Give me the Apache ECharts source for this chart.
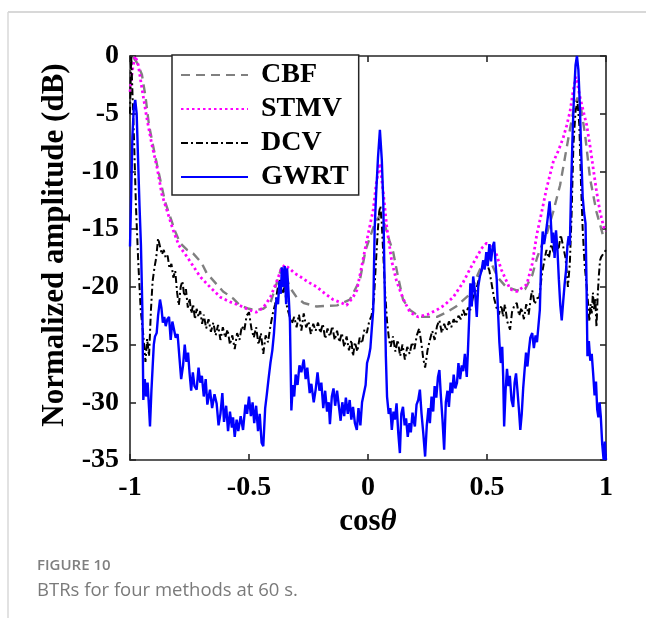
<!DOCTYPE html>
<html>
<head>
<meta charset="utf-8">
<script src="https://cdn.jsdelivr.net/npm/echarts@6/dist/echarts.min.js"></script>
<style>
html,body{margin:0;padding:0;background:#fff;}
#chart{width:646px;height:618px;}
</style>
</head>
<body>
<div id="chart"></div>
<script>
// ---- data: [cosθ, normalized amplitude dB] ----
var seriesNames = ['CBF', 'STMV', 'DCV', 'GWRT'];
var xTickValues = [-1, -0.5, 0, 0.5, 1];
var xTickLabels = ['-1', '-0.5', '0', '0.5', '1'];
var yTickValues = [0, -5, -10, -15, -20, -25, -30, -35];
var yTickLabels = ['0', '-5', '-10', '-15', '-20', '-25', '-30', '-35'];

var cbf = [[-1,-1.2],[-0.99,0],[-0.97,-0.6],[-0.95,-1.6],[-0.935,-3.5],[-0.92,-6.0],[-0.895,-8.6],[-0.87,-11],[-0.853,-12.6],[-0.83,-14],[-0.81,-15.2],[-0.79,-16.2],[-0.76,-16.8],[-0.735,-17.1],[-0.7,-17.9],[-0.678,-18.8],[-0.609,-20.4],[-0.567,-21],[-0.538,-21.6],[-0.5,-21.9],[-0.468,-22],[-0.44,-21.9],[-0.41,-21.4],[-0.384,-19.7],[-0.365,-18.4],[-0.35,-18.6],[-0.33,-20],[-0.3,-20.9],[-0.27,-21.4],[-0.216,-21.7],[-0.13,-21.6],[-0.076,-21.1],[-0.034,-19.4],[-0.01,-16.8],[0.01,-15.6],[0.03,-14.4],[0.05,-13.8],[0.07,-14.6],[0.09,-16],[0.106,-17],[0.125,-19],[0.147,-21.1],[0.176,-22],[0.218,-22.6],[0.29,-22.6],[0.33,-22.2],[0.37,-21.7],[0.43,-20.6],[0.46,-19],[0.485,-17.8],[0.51,-17.6],[0.546,-19.2],[0.58,-20],[0.625,-20.3],[0.66,-20.2],[0.69,-19],[0.71,-17.5],[0.73,-16.4],[0.75,-15.5],[0.778,-13.5],[0.807,-11.2],[0.83,-8.5],[0.849,-6.3],[0.865,-4.5],[0.88,-3.6],[0.895,-4.5],[0.912,-6.8],[0.933,-10.6],[0.96,-13.5],[0.987,-15.5],[1,-15.6]];

var stmv = [[-1,-3.1],[-0.99,-1.2],[-0.978,0],[-0.965,-0.8],[-0.95,-2.8],[-0.93,-5.3],[-0.908,-7.7],[-0.885,-9.8],[-0.866,-12],[-0.846,-13.3],[-0.82,-15],[-0.795,-16.4],[-0.76,-17.4],[-0.706,-19.1],[-0.66,-20.1],[-0.62,-20.9],[-0.58,-21.3],[-0.54,-21.6],[-0.5,-22],[-0.47,-22.2],[-0.44,-21.8],[-0.41,-20.9],[-0.385,-19.6],[-0.365,-18.5],[-0.35,-18.1],[-0.33,-18.4],[-0.31,-18.8],[-0.286,-19.1],[-0.25,-19.6],[-0.216,-20],[-0.18,-20.6],[-0.147,-21.1],[-0.11,-21.4],[-0.09,-21.6],[-0.063,-20.9],[-0.047,-20.3],[-0.03,-18.6],[-0.013,-16.8],[0.005,-15],[0.022,-13.3],[0.035,-11],[0.05,-9.3],[0.065,-12],[0.08,-15],[0.1,-17.8],[0.12,-19.5],[0.147,-21],[0.176,-22.2],[0.21,-22.6],[0.25,-22.4],[0.289,-22],[0.32,-21.6],[0.358,-20.9],[0.4,-19.6],[0.43,-18.4],[0.46,-17.3],[0.48,-16.6],[0.499,-16.2],[0.515,-16.5],[0.54,-17.2],[0.56,-18.5],[0.597,-20.2],[0.625,-20.4],[0.667,-19.8],[0.69,-18],[0.709,-15.5],[0.73,-13.5],[0.75,-11.5],[0.778,-9.2],[0.8,-8.2],[0.82,-7.1],[0.835,-6],[0.849,-4.8],[0.862,-3],[0.874,-1.8],[0.89,-3.5],[0.905,-4.8],[0.919,-6],[0.933,-7.8],[0.946,-9.7],[0.96,-11.7],[0.975,-13.5],[0.99,-14.8],[1,-15.2]];

var dcv = [[-1,-5],[-0.995,0],[-0.99,-3],[-0.982,-8],[-0.975,-13],[-0.965,-18],[-0.955,-22],[-0.945,-24],[-0.935,-26.5],[-0.928,-24.5],[-0.92,-26],[-0.912,-22],[-0.905,-19.5],[-0.897,-18.3],[-0.89,-17.5],[-0.882,-15.8],[-0.874,-16.5],[-0.866,-17.2],[-0.858,-16.8],[-0.85,-17.5],[-0.842,-17.3],[-0.834,-18.4],[-0.826,-18],[-0.818,-19.2],[-0.81,-18.6],[-0.802,-20.5],[-0.795,-21.6],[-0.787,-20],[-0.78,-19.5],[-0.772,-20.8],[-0.765,-20.2],[-0.757,-21.8],[-0.75,-21],[-0.742,-22.3],[-0.735,-21.5],[-0.727,-22.8],[-0.72,-21.9],[-0.712,-22.6],[-0.705,-22.1],[-0.697,-23.2],[-0.69,-22.4],[-0.68,-23.6],[-0.67,-22.8],[-0.66,-23.9],[-0.65,-23.1],[-0.64,-24.2],[-0.63,-23.3],[-0.62,-24.6],[-0.61,-23.5],[-0.6,-24.4],[-0.59,-23.7],[-0.58,-25],[-0.57,-24.2],[-0.56,-25.4],[-0.55,-24],[-0.54,-24.6],[-0.53,-23.4],[-0.52,-23.8],[-0.51,-22.5],[-0.5,-22.2],[-0.49,-23.6],[-0.48,-24.4],[-0.47,-23.5],[-0.46,-25],[-0.45,-24],[-0.44,-25.8],[-0.43,-24.2],[-0.42,-24.8],[-0.41,-23.4],[-0.4,-22.3],[-0.39,-21.5],[-0.38,-20.2],[-0.37,-19.4],[-0.36,-20.6],[-0.35,-20],[-0.34,-21.8],[-0.33,-22.5],[-0.32,-23.2],[-0.31,-22.6],[-0.3,-23.5],[-0.29,-22.4],[-0.28,-23.8],[-0.27,-22.3],[-0.26,-23.5],[-0.25,-23],[-0.24,-24.1],[-0.23,-23.2],[-0.22,-23.8],[-0.21,-23.1],[-0.2,-24],[-0.19,-23.2],[-0.18,-24.5],[-0.17,-23.6],[-0.16,-24.3],[-0.15,-23.4],[-0.14,-24.6],[-0.13,-23.8],[-0.12,-24.8],[-0.11,-24],[-0.1,-25.2],[-0.09,-24.3],[-0.08,-25.5],[-0.07,-24.6],[-0.063,-26],[-0.055,-24.8],[-0.045,-25.6],[-0.035,-24.4],[-0.025,-24.9],[-0.015,-23.7],[-0.005,-24],[0.005,-23],[0.015,-22.5],[0.025,-21],[0.033,-18],[0.04,-15.5],[0.047,-13.5],[0.052,-13],[0.058,-14.5],[0.065,-17.5],[0.072,-20.5],[0.08,-23],[0.088,-24.5],[0.095,-25.2],[0.105,-24.3],[0.115,-25.6],[0.125,-24.6],[0.135,-26],[0.145,-25],[0.155,-26.3],[0.165,-25.2],[0.175,-25.8],[0.185,-24.8],[0.195,-25.4],[0.205,-24.2],[0.215,-23.6],[0.225,-25],[0.232,-26.2],[0.24,-27],[0.25,-25.5],[0.26,-24.6],[0.27,-23.8],[0.28,-24.6],[0.29,-23.4],[0.3,-22.9],[0.31,-24],[0.32,-23.2],[0.33,-23.8],[0.34,-23],[0.35,-23.5],[0.36,-22.8],[0.37,-23.2],[0.38,-22.5],[0.39,-22.8],[0.4,-22],[0.41,-22.6],[0.42,-21.8],[0.43,-22],[0.44,-21],[0.45,-20.5],[0.46,-19.8],[0.47,-19],[0.48,-18.4],[0.49,-18.2],[0.5,-18],[0.51,-18.6],[0.52,-19.8],[0.53,-21],[0.54,-21.8],[0.55,-22.4],[0.56,-21.6],[0.568,-22.6],[0.575,-21.5],[0.585,-23],[0.597,-23.7],[0.605,-22.2],[0.615,-21.6],[0.625,-21.4],[0.635,-22.5],[0.645,-21.8],[0.655,-22.8],[0.665,-21.5],[0.675,-22.4],[0.685,-20.8],[0.69,-20.3],[0.7,-21.5],[0.71,-21],[0.72,-20.9],[0.73,-19],[0.74,-17.8],[0.75,-16.8],[0.76,-17.5],[0.77,-16.3],[0.78,-17],[0.79,-16],[0.8,-16.8],[0.81,-15.5],[0.82,-16.5],[0.83,-17.5],[0.84,-20],[0.848,-18],[0.855,-14],[0.863,-7.7],[0.872,-4.8],[0.88,-3.9],[0.888,-6],[0.895,-11],[0.902,-15],[0.91,-18],[0.919,-20],[0.925,-21.5],[0.93,-23],[0.935,-21.5],[0.94,-22.3],[0.945,-20.5],[0.95,-22],[0.955,-21],[0.96,-23.5],[0.965,-20.8],[0.97,-19],[0.975,-17.7],[0.98,-17.4],[0.99,-17.1],[1,-16.8]];

var gwrt = [[-1,-16.5],[-0.995,-12],[-0.99,-7],[-0.984,-4.5],[-0.978,-3.8],[-0.972,-5],[-0.966,-9],[-0.96,-13],[-0.954,-16.4],[-0.948,-22],[-0.944,-29.8],[-0.938,-28],[-0.932,-29.5],[-0.926,-28.3],[-0.92,-30.5],[-0.916,-32.1],[-0.91,-29],[-0.905,-27],[-0.9,-25],[-0.895,-24.3],[-0.888,-24],[-0.882,-22.5],[-0.874,-21.1],[-0.868,-21.8],[-0.862,-23.1],[-0.856,-22.6],[-0.85,-23.4],[-0.843,-22.8],[-0.836,-22.6],[-0.829,-24.6],[-0.822,-23],[-0.815,-22.9],[-0.808,-24.4],[-0.8,-24.1],[-0.792,-26.2],[-0.785,-28],[-0.777,-26.8],[-0.77,-25],[-0.763,-26.5],[-0.756,-25.7],[-0.75,-27.4],[-0.743,-29],[-0.736,-27.4],[-0.729,-28.6],[-0.72,-28.9],[-0.712,-27],[-0.705,-28.3],[-0.698,-27.7],[-0.69,-29.5],[-0.682,-28],[-0.675,-30.2],[-0.664,-28.9],[-0.655,-30.5],[-0.645,-29.3],[-0.636,-30.1],[-0.628,-32],[-0.62,-31],[-0.612,-29.2],[-0.605,-31.7],[-0.596,-30.3],[-0.588,-32.5],[-0.58,-30.8],[-0.572,-32.2],[-0.567,-31.3],[-0.56,-33],[-0.552,-31.5],[-0.545,-32.5],[-0.535,-31.2],[-0.525,-32.4],[-0.515,-30.2],[-0.508,-31],[-0.5,-29.5],[-0.492,-31.2],[-0.485,-30],[-0.478,-31.8],[-0.47,-30.3],[-0.462,-32.5],[-0.455,-31],[-0.447,-33.5],[-0.44,-33.8],[-0.432,-30.5],[-0.425,-29.3],[-0.418,-28],[-0.41,-26.6],[-0.402,-25.5],[-0.395,-24],[-0.388,-21.8],[-0.384,-20.9],[-0.378,-21.5],[-0.372,-19.5],[-0.366,-20.6],[-0.362,-18.3],[-0.356,-20],[-0.35,-18.2],[-0.344,-21.5],[-0.34,-18.4],[-0.334,-20.5],[-0.328,-23],[-0.322,-30.7],[-0.316,-28.5],[-0.31,-29.5],[-0.304,-27.6],[-0.296,-28.5],[-0.288,-26.8],[-0.28,-27.4],[-0.27,-26.3],[-0.262,-28],[-0.255,-27],[-0.245,-29.2],[-0.238,-28.4],[-0.228,-30],[-0.22,-28.9],[-0.212,-27.4],[-0.204,-29],[-0.196,-28.3],[-0.188,-30.5],[-0.18,-29],[-0.172,-30.8],[-0.165,-30],[-0.16,-31.9],[-0.152,-29.5],[-0.145,-28.8],[-0.138,-30.3],[-0.13,-29],[-0.122,-30.4],[-0.115,-31.6],[-0.108,-30],[-0.1,-31.2],[-0.093,-29.6],[-0.085,-31],[-0.077,-29.8],[-0.07,-31.5],[-0.063,-30.4],[-0.055,-31.8],[-0.047,-32.4],[-0.04,-30.5],[-0.032,-32],[-0.025,-30],[-0.017,-29.2],[-0.01,-28.5],[-0.004,-26.6],[0.004,-26],[0.01,-25.3],[0.016,-23.6],[0.022,-22],[0.028,-15],[0.034,-12],[0.042,-8.8],[0.05,-6.4],[0.058,-9],[0.064,-12.5],[0.07,-20],[0.075,-26],[0.08,-29.5],[0.087,-31],[0.094,-30.5],[0.1,-32.4],[0.107,-30.8],[0.113,-31.5],[0.12,-30.1],[0.127,-32.6],[0.134,-34.4],[0.14,-31],[0.147,-30.4],[0.154,-32],[0.16,-31.4],[0.167,-33],[0.174,-31.8],[0.18,-32.6],[0.187,-30.9],[0.192,-31.6],[0.197,-32.1],[0.204,-30.2],[0.211,-29.8],[0.218,-28.9],[0.225,-31],[0.232,-32.6],[0.24,-34.7],[0.247,-32],[0.254,-30.5],[0.26,-31.8],[0.267,-29.5],[0.274,-30.8],[0.28,-28.6],[0.287,-29.6],[0.294,-27.8],[0.3,-27.2],[0.306,-29.4],[0.313,-31.5],[0.32,-34.1],[0.327,-30],[0.334,-29],[0.34,-30.4],[0.347,-28.3],[0.354,-29.2],[0.36,-27.6],[0.367,-28.8],[0.374,-28.3],[0.38,-26.6],[0.387,-28],[0.394,-26.8],[0.4,-27.3],[0.407,-25.8],[0.415,-27.8],[0.42,-25.5],[0.425,-22.8],[0.43,-19.7],[0.436,-21.7],[0.442,-19.1],[0.45,-20.5],[0.457,-22.6],[0.463,-20],[0.47,-19.1],[0.477,-18.6],[0.484,-17.7],[0.49,-18.5],[0.497,-17],[0.503,-18.2],[0.51,-16.3],[0.517,-17.8],[0.524,-16.5],[0.53,-16.1],[0.536,-18],[0.541,-19.4],[0.546,-22],[0.552,-24.8],[0.558,-26.6],[0.564,-25.2],[0.568,-27.8],[0.572,-32.1],[0.578,-29],[0.584,-27.1],[0.59,-28.6],[0.596,-27.7],[0.603,-29.8],[0.61,-30.4],[0.616,-28.3],[0.622,-27.5],[0.628,-29],[0.634,-30.6],[0.64,-32.4],[0.646,-31],[0.652,-28.8],[0.658,-27.2],[0.664,-25.7],[0.67,-26.9],[0.676,-25.5],[0.682,-24.4],[0.69,-24],[0.697,-25.3],[0.704,-24.2],[0.71,-24.8],[0.716,-24.9],[0.722,-22],[0.728,-17.5],[0.734,-15.2],[0.74,-16.3],[0.746,-15.5],[0.752,-14.6],[0.758,-13.5],[0.763,-12.6],[0.768,-14.2],[0.773,-16.2],[0.778,-15.3],[0.784,-17.5],[0.79,-15.1],[0.796,-16.8],[0.802,-19.4],[0.808,-21.6],[0.814,-22.9],[0.82,-21.3],[0.826,-19.8],[0.832,-18.6],[0.838,-16.4],[0.843,-15.6],[0.848,-16.4],[0.854,-11],[0.86,-6.5],[0.866,-3.2],[0.872,-0.8],[0.878,0],[0.884,-1.2],[0.89,-4.2],[0.896,-8.5],[0.902,-12.2],[0.908,-13.6],[0.914,-14.5],[0.918,-19.5],[0.922,-26],[0.928,-24.7],[0.934,-26.4],[0.94,-25.8],[0.946,-27.5],[0.952,-29.4],[0.958,-28.2],[0.963,-30.6],[0.968,-31.3],[0.973,-30],[0.978,-31.2],[0.984,-33.6],[0.99,-35],[0.995,-33.4],[1,-35]];

var seriesData = [cbf, stmv, dcv, gwrt];
var seriesColors = ['#808080', '#ff00ff', '#000000', '#0000ff'];

function tickFmt(vals, labels) {
  return function (v) {
    for (var i = 0; i < vals.length; i++) {
      if (Math.abs(vals[i] - v) < 1e-9) return labels[i];
    }
    return '';
  };
}

var SERIF = 'Liberation Serif';
var axisLineStyle = { color: '#262626', width: 1.6 };

var chart = echarts.init(document.getElementById('chart'), null, { renderer: 'canvas' });

var lineStyles = [
  { width: 2.4, type: [9, 6] },
  { width: 2.8, type: [2.5, 3] },
  { width: 2, type: [7, 3, 2, 3] },
  { width: 2.4, type: 'solid' }
];

var series = seriesNames.map(function (n, i) {
  return {
    name: n,
    type: 'line',
    data: seriesData[i],
    xAxisIndex: 0,
    yAxisIndex: 0,
    symbol: 'none',
    showSymbol: false,
    smooth: false,
    clip: true,
    animation: false,
    color: seriesColors[i],
    lineStyle: Object.assign({ color: seriesColors[i] }, lineStyles[i]),
    z: 2 + i
  };
});

chart.setOption({
  animation: false,
  backgroundColor: '#ffffff',
  grid: { left: 130, right: 40, top: 56, bottom: 158, containLabel: false },
  legend: {
    data: seriesNames,
    orient: 'vertical',
    left: 172,
    top: 55,
    itemWidth: 67,
    itemHeight: 14,
    itemGap: 6,
    padding: [6, 10, 4, 8],
    borderColor: '#262626',
    borderWidth: 1.5,
    backgroundColor: '#ffffff',
    itemStyle: { opacity: 0, borderWidth: 0 },
    textStyle: { fontFamily: SERIF, fontWeight: 'bold', fontSize: 28, color: '#000', lineHeight: 28, padding: [0, 0, 0, 8] },
    selectedMode: false
  },
  xAxis: [{
    type: 'value', min: -1, max: 1, interval: 0.5, position: 'bottom',
    name: '{a|cos}{b|θ}', nameLocation: 'middle', nameGap: 46,
    nameTextStyle: { rich: {
      a: { fontFamily: SERIF, fontWeight: 'bold', fontSize: 31, color: '#000' },
      b: { fontFamily: SERIF, fontWeight: 'bold', fontStyle: 'italic', fontSize: 31, color: '#000' }
    } },
    axisLine: { show: true, onZero: false, lineStyle: axisLineStyle },
    axisTick: { show: true, inside: true, length: 6, lineStyle: axisLineStyle },
    axisLabel: { margin: 14, fontFamily: SERIF, fontWeight: 'bold', fontSize: 28, color: '#000', formatter: tickFmt(xTickValues, xTickLabels) },
    splitLine: { show: false }
  }, {
    type: 'value', min: -1, max: 1, interval: 0.5, position: 'top',
    axisLine: { show: true, onZero: false, lineStyle: axisLineStyle },
    axisTick: { show: true, inside: true, length: 6, lineStyle: axisLineStyle },
    axisLabel: { show: false },
    splitLine: { show: false }
  }],
  yAxis: [{
    type: 'value', min: -35, max: 0, interval: 5, position: 'left',
    name: 'Normalized amplitude (dB)', nameLocation: 'middle', nameGap: 56, nameRotate: 90,
    nameTextStyle: { fontFamily: SERIF, fontWeight: 'bold', fontSize: 31, color: '#000', padding: [0, 0, 0, 26] },
    axisLine: { show: true, onZero: false, lineStyle: axisLineStyle },
    axisTick: { show: true, inside: true, length: 6, lineStyle: axisLineStyle },
    axisLabel: { margin: 11, fontFamily: SERIF, fontWeight: 'bold', fontSize: 28, color: '#000', formatter: tickFmt(yTickValues, yTickLabels) },
    splitLine: { show: false }
  }, {
    type: 'value', min: -35, max: 0, interval: 5, position: 'right',
    axisLine: { show: true, onZero: false, lineStyle: axisLineStyle },
    axisTick: { show: true, inside: true, length: 6, lineStyle: axisLineStyle },
    axisLabel: { show: false },
    splitLine: { show: false }
  }],
  graphic: [
    { type: 'line', shape: { x1: 8, y1: 12, x2: 646, y2: 12 }, style: { stroke: '#d8d8d8', lineWidth: 2 }, silent: true },
    { type: 'line', shape: { x1: 8, y1: 12, x2: 8, y2: 618 }, style: { stroke: '#d8d8d8', lineWidth: 1.5 }, silent: true },
    { type: 'text', left: 37, top: 558, style: { text: 'FIGURE 10', font: '600 15px "Open Sans"', fill: '#7f7f7f' }, silent: true },
    { type: 'text', left: 37, top: 581, style: { text: 'BTRs for four methods at 60 s.', font: '18.5px "Open Sans"', fill: '#7a7a7a' }, silent: true }
  ],
  series: series
});
</script>
</body>
</html>
